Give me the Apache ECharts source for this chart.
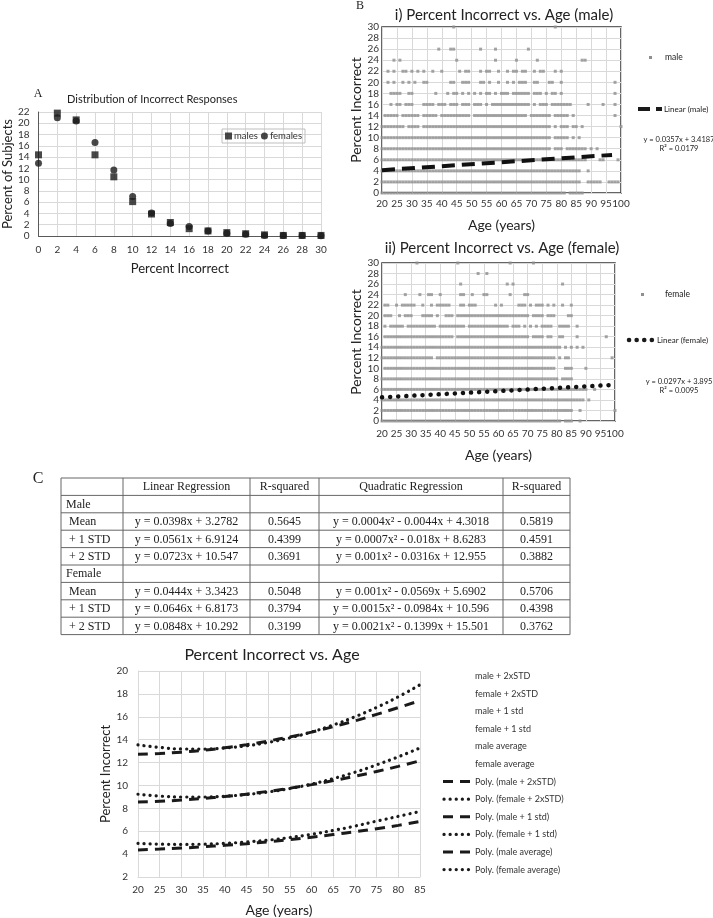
<!DOCTYPE html>
<html><head><meta charset="utf-8">
<script src="https://cdn.jsdelivr.net/npm/echarts@6/dist/echarts.min.js"></script>
<style>html,body{margin:0;padding:0;background:#fff}#c{width:713px;height:918px}</style>
</head><body><div id="c"></div>
<script>
// ---------- Panel A data ----------
const pctIncorrect = [0,2,4,6,8,10,12,14,16,18,20,22,24,26,28,30];
const malesPct   = [14.4,21.8,20.6,14.4,10.5,6.1,3.9,2.4,1.3,0.9,0.6,0.4,0.2,0.1,0.1,0.1];
const femalesPct = [12.9,21.0,20.4,16.6,11.7,7.0,4.1,2.2,1.7,0.9,0.5,0.3,0.1,0.1,0.1,0.05];

// ---------- Panel B data: ages (single ages or [from,to] runs of consecutive ages) per percent level ----------
const male0  = [[20,81],[83,87]];
const male2  = [[20,86],[89,93],[96,99]];
const male4  = [[20,86],89];
const male6  = [[20,88],[93,94],99];
const male8  = [[20,76],[78,80],[82,88],90,92];
const male10 = [[20,76],[78,82],84,86];
const male12 = [[20,27],[29,32],[34,76],78,[80,82],[84,85],87,100];
const male14 = [[21,25],[27,32],[34,38],[40,49],[51,68],[70,76],[78,82],84,98];
const male16 = [23,[25,26],[28,30],[34,37],[39,41],[43,45],[47,49],[51,53],55,[57,60],[61,69],71,[73,75],[77,79],[80,83],89,94,98];
const male18 = [[23,26],[29,30],38,42,[44,45],47,49,51,53,[55,56],58,[60,62],[64,69],[71,73],75,[77,78],80,98];
const male20 = [22,24,27,29,31,34,35,43,44,47,48,49,53,54,56,59,62,64,66,67,68,71,72,76,77,80,98];
const male22 = [22,24,27,28,30,32,34,37,40,46,48,49,53,55,56,59,62,64,65,67,68,71,73,74,78,80];
const male24 = [24,26,45,58,65,72,87,88];
const male26 = [39,43,44,53,58,69];
const male28 = [];
const male30 = [44,78];

const female0  = [[20,81],[83,85],88];
const female2  = [[20,85],88,100];
const female4  = [[20,89],91];
const female6  = [[20,90],93];
const female8  = [[20,80],[82,85]];
const female10 = [[21,79],[83,85],90];
const female12 = [[20,37],[39,79],81,[83,84],99];
const female14 = [[20,81],83,85,87,89];
const female16 = [[21,44],[46,70],[72,75],[77,78],[81,82],87,97];
const female18 = [21,[23,27],[29,38],[40,48],[50,63],[65,67],69,71,73,[75,78],[81,84],87];
const female20 = [[21,23],26,[28,30],[34,37],39,[42,44],[46,70],[72,75],[77,79],[84,85]];
const female22 = [[21,22],25,[27,31],34,37,[39,43],47,48,[50,52],59,61,[67,69],71,[73,75],77,79,82,85];
const female24 = [28,33,36,37,40,47,48,51,55,56,64,69,70];
const female26 = [47,63,65,82];
const female28 = [53,56];
const female30 = [32,46,64,72];

const levels = [0,2,4,6,8,10,12,14,16,18,20,22,24,26,28,30];
const maleRows = [male0,male2,male4,male6,male8,male10,male12,male14,male16,male18,male20,male22,male24,male26,male28,male30];
const femaleRows = [female0,female2,female4,female6,female8,female10,female12,female14,female16,female18,female20,female22,female24,female26,female28,female30];

// linear trend end points (from the fitted lines shown)
const maleTrend = [[20,4.13],[97,6.88]];
const femaleTrend = [[20,4.49],[98,6.81]];
const maleEq = ['y = 0.0357x + 3.4187','R² = 0.0179'];
const femaleEq = ['y = 0.0297x + 3.895','R² = 0.0095'];

// ---------- Panel C table ----------
const tableHeader = ['', 'Linear Regression', 'R-squared', 'Quadratic Regression', 'R-squared'];
const rowLabels = ['Male','Mean','+ 1 STD','+ 2 STD','Female','Mean','+ 1 STD','+ 2 STD'];
const linearEqs = ['', 'y = 0.0398x + 3.2782','y = 0.0561x + 6.9124','y = 0.0723x + 10.547','', 'y = 0.0444x + 3.3423','y = 0.0646x + 6.8173','y = 0.0848x + 10.292'];
const linearR2 = ['', '0.5645','0.4399','0.3691','', '0.5048','0.3794','0.3199'];
const quadEqs = ['', 'y = 0.0004x² - 0.0044x + 4.3018','y = 0.0007x² - 0.018x + 8.6283','y = 0.001x² - 0.0316x + 12.955','', 'y = 0.001x² - 0.0569x + 5.6902','y = 0.0015x² - 0.0984x + 10.596','y = 0.0021x² - 0.1399x + 15.501'];
const quadR2 = ['', '0.5819','0.4591','0.3882','', '0.5706','0.4398','0.3762'];

// ---------- Bottom chart ----------
const ageTicks = [20,25,30,35,40,45,50,55,60,65,70,75,80,85];
const polyMale2   = [12.72,12.79,12.91,13.07,13.29,13.56,13.88,14.24,14.66,15.13,15.64,16.21,16.80,17.42];
const polyFemale2 = [13.54,13.32,13.19,13.18,13.27,13.46,13.76,14.16,14.67,15.28,16.00,16.82,17.75,18.80];
const polyMale1   = [8.55,8.62,8.72,8.86,9.03,9.24,9.48,9.76,10.07,10.42,10.80,11.22,11.67,12.16];
const polyFemale1 = [9.23,9.07,8.99,8.99,9.06,9.21,9.43,9.73,10.12,10.60,11.15,11.80,12.50,13.28];
const polyMaleAvg   = [4.37,4.44,4.53,4.64,4.77,4.91,5.08,5.27,5.48,5.71,5.95,6.22,6.51,6.85];
const polyFemaleAvg = [4.94,4.87,4.85,4.87,4.94,5.06,5.22,5.45,5.73,6.07,6.45,6.88,7.30,7.73];
const bottomLegend = ['male + 2xSTD','female + 2xSTD','male + 1 std','female + 1 std','male average','female average',
  'Poly. (male + 2xSTD)','Poly. (female + 2xSTD)','Poly. (male + 1 std)','Poly. (female + 1 std)','Poly. (male average)','Poly. (female average)'];

// ---------- helpers ----------
function expandAges(runs){
  const out=[];
  runs.forEach(r=>{ if(typeof r==='number'){out.push(r);} else { for(let a=r[0];a<=r[1];a++) out.push(a); } });
  return out;
}
function rowsToPoints(rows){
  const pts=[];
  rows.forEach((runs,i)=>{ expandAges(runs).forEach(a=>pts.push([a,levels[i]])); });
  return pts;
}

const FONT = 'Lato, "Open Sans", "DejaVu Sans", sans-serif';
const SERIF = '"Liberation Serif", "DejaVu Serif", serif';
const INK = '#1a1a1a';
const GRIDC = '#d9d9d9';

function txt(x,y,text,size,opt){
  opt=opt||{};
  return {type:'text', x:x, y:y, silent:true, style:{text:text, font:(opt.weight||'normal')+' '+size+'px '+(opt.family||FONT),
    fill:opt.color||'#222', textAlign:opt.align||'center', textVerticalAlign:'middle', align:opt.align||'center', verticalAlign:'middle'}};
}
function hline(x1,x2,y,opt){
  opt=opt||{};
  return {type:'line', silent:true, shape:{x1:x1,y1:y,x2:x2,y2:y}, style:{stroke:opt.color||INK, lineWidth:opt.width||1, lineDash:opt.dash||null, lineCap:opt.cap||'butt'}};
}
function vline(x,y1,y2,opt){
  opt=opt||{};
  return {type:'line', silent:true, shape:{x1:x,y1:y1,x2:x,y2:y2}, style:{stroke:opt.color||INK, lineWidth:opt.width||1}};
}

// ---------- graphic elements (titles, legends, table) ----------
const graphics = [];
graphics.push(txt(38,94,'A',12,{family:SERIF}));
graphics.push(txt(67,99,'Distribution of Incorrect Responses',11,{align:'left'}));
graphics.push(txt(360,6,'B',12,{family:SERIF}));
graphics.push(txt(504,15,'i) Percent Incorrect vs. Age (male)',15));
graphics.push(txt(502,248,'ii) Percent Incorrect vs. Age (female)',15));
graphics.push(txt(38,479,'C',16,{family:SERIF}));
graphics.push(txt(272,655,'Percent Incorrect vs. Age',16));

// B i legend
graphics.push({type:'rect', silent:true, shape:{x:649,y:56,width:3,height:3}, style:{fill:'#8f8f8f'}});
graphics.push(txt(665,57,'male',8.5,{align:'left'}));
graphics.push(hline(638,662,109,{width:4,dash:[12,6]}));
graphics.push(txt(664,109,'Linear (male)',8,{align:'left'}));
graphics.push(txt(679,140,maleEq[0],7.5));
graphics.push(txt(679,148.5,maleEq[1],7.5));
// B ii legend
graphics.push({type:'rect', silent:true, shape:{x:641,y:293,width:3,height:3}, style:{fill:'#8f8f8f'}});
graphics.push(txt(665,294,'female',8.5,{align:'left'}));
graphics.push(hline(629,652,340,{width:4.5,dash:[0.1,7.5],cap:'round'}));
graphics.push(txt(657,340,'Linear (female)',8,{align:'left'}));
graphics.push(txt(679,382,femaleEq[0],7.5));
graphics.push(txt(679,390.5,femaleEq[1],7.5));

// bottom legend
bottomLegend.forEach((name,i)=>{
  const y = 676 + i*17.6;
  graphics.push(txt(475,y,name,9,{align:'left',color:'#333'}));
  if(i>=6){
    const male = (i%2===0);
    if(male) graphics.push(hline(443,472,y,{width:3,dash:[10,7]}));
    else graphics.push(hline(444,472,y,{width:3.2,dash:[0.1,6],cap:'round'}));
  }
});

// table
const colX = [61,123,250,319,503,570];
const tTop = 478, rowH = 17.4, nRows = 9;
for(let i=0;i<=nRows;i++) graphics.push(hline(colX[0],colX[5],tTop+i*rowH,{color:'#666',width:1}));
colX.forEach(x=>graphics.push(vline(x,tTop,tTop+nRows*rowH,{color:'#666',width:1})));
const cx = i=>(colX[i]+colX[i+1])/2;
for(let c=1;c<5;c++) graphics.push(txt(cx(c),tTop+rowH/2+0.5,tableHeader[c],12,{family:SERIF}));
rowLabels.forEach((lab,r)=>{
  const y = tTop+(r+1)*rowH+rowH/2+0.5;
  const indent = (lab==='Male'||lab==='Female') ? 66 : 69;
  graphics.push(txt(indent,y,lab,12,{family:SERIF,align:'left'}));
  if(linearEqs[r]) graphics.push(txt(cx(1),y,linearEqs[r],12,{family:SERIF}));
  if(linearR2[r]) graphics.push(txt(cx(2),y,linearR2[r],12,{family:SERIF}));
  if(quadEqs[r]) graphics.push(txt(cx(3),y,quadEqs[r],12,{family:SERIF}));
  if(quadR2[r]) graphics.push(txt(cx(4),y,quadR2[r],12,{family:SERIF}));
});

// ---------- axes ----------
const lbl = (size,margin)=>({fontSize:size, color:'#333', margin:margin, fontFamily:FONT});
const nameStyle = size=>({fontSize:size, color:'#222', fontFamily:FONT});

const option = {
  animation:false,
  textStyle:{fontFamily:FONT},
  grid:[
    {left:34, top:112, width:287, height:124},
    {left:382, top:27, width:239, height:166, show:true, borderColor:'#333', borderWidth:1.5},
    {left:382, top:263, width:233, height:158, show:true, borderColor:'#333', borderWidth:1.5},
    {left:138, top:671, width:282, height:206}
  ],
  xAxis:[
    {gridIndex:0, type:'value', min:0, max:30, interval:2, axisTick:{show:false},
     axisLine:{lineStyle:{color:'#595959'}}, splitLine:{lineStyle:{color:GRIDC}}, axisLabel:lbl(10,9),
     name:'Percent Incorrect', nameLocation:'middle', nameGap:26, nameTextStyle:nameStyle(13)},
    {gridIndex:1, type:'value', min:20, max:100, interval:5, axisTick:{show:false},
     axisLine:{show:false}, splitLine:{lineStyle:{color:GRIDC}}, axisLabel:lbl(10,6),
     name:'Age (years)', nameLocation:'middle', nameGap:25, nameTextStyle:nameStyle(14)},
    {gridIndex:2, type:'value', min:20, max:100, interval:5, axisTick:{show:false},
     axisLine:{show:false}, splitLine:{lineStyle:{color:GRIDC}}, axisLabel:lbl(10,8),
     name:'Age (years)', nameLocation:'middle', nameGap:27, nameTextStyle:nameStyle(14)},
    {gridIndex:3, type:'value', min:20, max:85, interval:5, axisTick:{show:false},
     axisLine:{lineStyle:{color:GRIDC}}, splitLine:{lineStyle:{color:GRIDC}}, axisLabel:lbl(10,8),
     name:'Age (years)', nameLocation:'middle', nameGap:26, nameTextStyle:nameStyle(14)}
  ],
  yAxis:[
    {gridIndex:0, type:'value', min:0, max:22, interval:2, axisTick:{show:false},
     axisLine:{show:true, lineStyle:{color:'#595959'}}, splitLine:{lineStyle:{color:GRIDC}}, axisLabel:lbl(10,9),
     name:'Percent of Subjects', nameLocation:'middle', nameGap:21, nameTextStyle:nameStyle(13)},
    {gridIndex:1, type:'value', min:0, max:30, interval:2, axisTick:{show:false},
     axisLine:{show:false}, splitLine:{lineStyle:{color:GRIDC}}, axisLabel:lbl(10,3),
     name:'Percent Incorrect', nameLocation:'middle', nameGap:11, nameTextStyle:nameStyle(14)},
    {gridIndex:2, type:'value', min:0, max:30, interval:2, axisTick:{show:false},
     axisLine:{show:false}, splitLine:{lineStyle:{color:GRIDC}}, axisLabel:lbl(10,3),
     name:'Percent Incorrect', nameLocation:'middle', nameGap:11, nameTextStyle:nameStyle(14)},
    {gridIndex:3, type:'value', min:2, max:20, interval:2, axisTick:{show:false},
     axisLine:{show:true, lineStyle:{color:GRIDC}}, splitLine:{lineStyle:{color:GRIDC}}, axisLabel:lbl(10,10),
     name:'Percent Incorrect', nameLocation:'middle', nameGap:26, nameTextStyle:nameStyle(13)}
  ],
  legend:{data:['males','females'], left:222, top:129, itemWidth:7, itemHeight:7, itemGap:3, padding:[2,3],
    borderColor:'#bfbfbf', borderWidth:1, selectedMode:false, textStyle:{fontSize:9.5, color:'#333', padding:[0,0,0,-3]}},
  series:[
    {type:'scatter', name:'females', xAxisIndex:0, yAxisIndex:0, symbol:'circle', symbolSize:7,
     itemStyle:{color:INK}, data:pctIncorrect.map((x,i)=>[x,femalesPct[i]])},
    {type:'scatter', name:'males', xAxisIndex:0, yAxisIndex:0, symbol:'rect', symbolSize:7,
     itemStyle:{color:INK}, data:pctIncorrect.map((x,i)=>[x,malesPct[i]])},

    {type:'scatter', name:'male', xAxisIndex:1, yAxisIndex:1, symbol:'rect', symbolSize:3,
     itemStyle:{color:'#8f8f8f'}, data:rowsToPoints(maleRows)},
    {type:'line', name:'Linear (male)', xAxisIndex:1, yAxisIndex:1, showSymbol:false, data:maleTrend,
     lineStyle:{color:'#111', width:4, type:[13,7]}},

    {type:'scatter', name:'female', xAxisIndex:2, yAxisIndex:2, symbol:'rect', symbolSize:3,
     itemStyle:{color:'#8f8f8f'}, data:rowsToPoints(femaleRows)},
    {type:'line', name:'Linear (female)', xAxisIndex:2, yAxisIndex:2, showSymbol:false, data:femaleTrend,
     lineStyle:{color:'#111', width:4.5, type:[0.1,8], cap:'round'}},

    {type:'line', name:'Poly. (male + 2xSTD)', xAxisIndex:3, yAxisIndex:3, smooth:true, showSymbol:false,
     data:ageTicks.map((x,i)=>[x,polyMale2[i]]), lineStyle:{color:INK, width:3, type:[10,7]}},
    {type:'line', name:'Poly. (female + 2xSTD)', xAxisIndex:3, yAxisIndex:3, smooth:true, showSymbol:false,
     data:ageTicks.map((x,i)=>[x,polyFemale2[i]]), lineStyle:{color:INK, width:3.2, type:[0.1,6], cap:'round'}},
    {type:'line', name:'Poly. (male + 1 std)', xAxisIndex:3, yAxisIndex:3, smooth:true, showSymbol:false,
     data:ageTicks.map((x,i)=>[x,polyMale1[i]]), lineStyle:{color:INK, width:3, type:[10,7]}},
    {type:'line', name:'Poly. (female + 1 std)', xAxisIndex:3, yAxisIndex:3, smooth:true, showSymbol:false,
     data:ageTicks.map((x,i)=>[x,polyFemale1[i]]), lineStyle:{color:INK, width:3.2, type:[0.1,6], cap:'round'}},
    {type:'line', name:'Poly. (male average)', xAxisIndex:3, yAxisIndex:3, smooth:true, showSymbol:false,
     data:ageTicks.map((x,i)=>[x,polyMaleAvg[i]]), lineStyle:{color:INK, width:3, type:[10,7]}},
    {type:'line', name:'Poly. (female average)', xAxisIndex:3, yAxisIndex:3, smooth:true, showSymbol:false,
     data:ageTicks.map((x,i)=>[x,polyFemaleAvg[i]]), lineStyle:{color:INK, width:3.2, type:[0.1,6], cap:'round'}}
  ],
  graphic:graphics
};
const chart = echarts.init(document.getElementById('c'), null, {renderer:'canvas'});
chart.setOption(option);
</script>
</body></html>
